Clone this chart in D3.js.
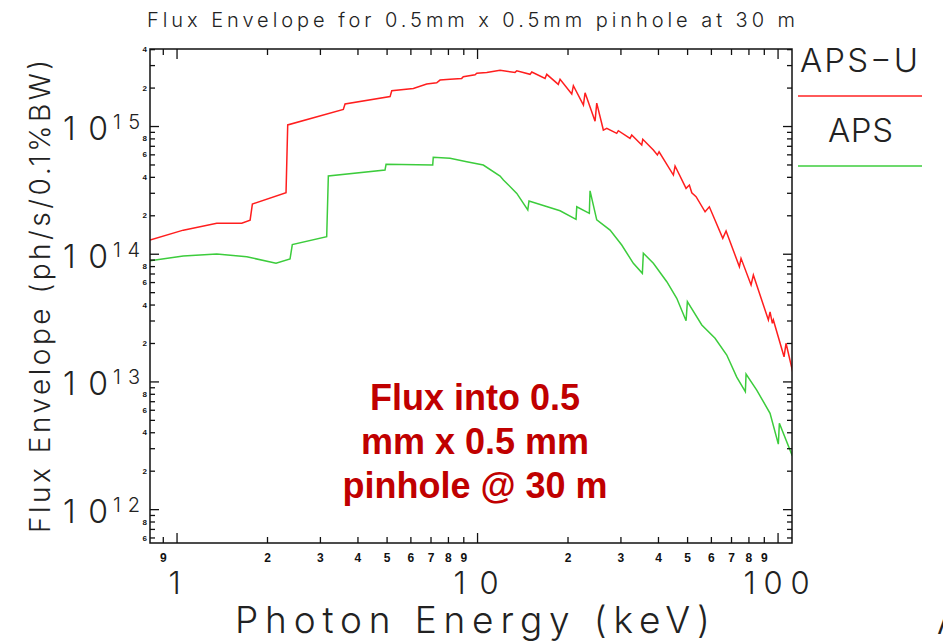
<!DOCTYPE html>
<html>
<head>
<meta charset="utf-8">
<style>
  body { margin: 0; background: white; }
  svg { display: block; }
  .thin { font-family: Inter, "DejaVu Sans", sans-serif; font-weight: 300; fill: #222; }
  .minor text { font-family: "Liberation Sans", Arial, sans-serif; font-weight: bold; fill: #111; }
  .note { font-family: "Liberation Sans", Arial, sans-serif; font-weight: bold; fill: #c00000; font-size: 36px; }
</style>
<script src="https://cdn.jsdelivr.net/npm/d3@7"></script>
</head>
<body>
<svg id="chart"></svg>
<script>
// photon energy (keV) and flux (ph/s/0.1%BW)
let apsuEnergy = [0.816, 1.053, 1.361, 1.648, 1.757, 1.788, 2.314, 2.344, 3.589, 3.637, 5.135, 5.202, 6.138, 6.80, 7.34, 7.53, 8.13, 8.89, 9.00, 9.85, 9.98, 10.77, 11.93, 13.38, 13.56, 15.01, 15.21, 16.84, 17.06, 18.64, 18.89, 20.66, 20.92, 22.59, 22.88, 24.70, 25.02, 26.32, 27.02, 29.16, 29.52, 32.29, 32.71, 35.32, 35.60, 38.61, 39.81, 40.34, 45.01, 45.60, 49.61, 50.88, 51.83, 53.56, 57.39, 59.29, 65.72, 67.40, 74.64, 75.60, 81.63, 83.08, 93.20, 94.41, 96.09, 96.83, 105.1, 106.7, 112.3]
let apsuFlux = [1.28e14, 1.53e14, 1.73e14, 1.73e14, 1.83e14, 2.45e14, 3.00e14, 1.02e15, 1.35e15, 1.49e15, 1.70e15, 1.89e15, 1.97e15, 2.13e15, 2.18e15, 2.29e15, 2.32e15, 2.36e15, 2.43e15, 2.52e15, 2.59e15, 2.63e15, 2.73e15, 2.63e15, 2.71e15, 2.54e15, 2.65e15, 2.36e15, 2.54e15, 2.12e15, 2.32e15, 1.78e15, 2.07e15, 1.46e15, 1.82e15, 1.09e15, 1.51e15, 9.30e14, 9.59e14, 8.77e14, 9.19e14, 8.01e14, 8.50e14, 7.10e14, 7.87e14, 6.49e14, 5.93e14, 6.29e14, 4.13e14, 4.86e14, 3.25e14, 3.45e14, 3.00e14, 2.80e14, 2.13e14, 2.33e14, 1.32e14, 1.51e14, 7.91e13, 9.20e13, 5.69e13, 6.81e13, 3.03e13, 3.51e13, 2.85e13, 3.03e13, 1.56e13, 1.99e13, 1.19e13]

let apsEnergy = [0.816, 1.053, 1.361, 1.713, 2.143, 2.386, 2.428, 3.16, 3.20, 4.94, 4.98, 7.12, 7.15, 8.13, 9.24, 10.49, 11.93, 12.24, 13.56, 14.75, 14.89, 18.89, 21.35, 21.47, 23.64, 23.77, 25.02, 27.71, 30.30, 33.12, 35.49, 35.76, 38.61, 42.8, 46.19, 49.61, 50.11, 55.96, 61.94, 67.76, 73.14, 78.13, 78.56, 85.25, 94.41, 100.6, 101.4, 112.0]
let apsFlux = [8.81e13, 9.59e13, 9.95e13, 9.47e13, 8.41e13, 9.09e13, 1.18e14, 1.36e14, 4.06e14, 4.52e14, 5.01e14, 4.95e14, 5.69e14, 5.59e14, 5.25e14, 4.95e14, 4.06e14, 3.78e14, 2.97e14, 2.20e14, 2.59e14, 2.17e14, 1.86e14, 2.33e14, 2.07e14, 3.11e14, 1.84e14, 1.53e14, 1.17e14, 8.41e13, 7.02e13, 1.01e14, 8.41e13, 6.04e13, 4.48e13, 2.99e13, 4.21e13, 2.77e13, 2.18e13, 1.61e13, 1.08e13, 8.31e12, 1.14e13, 8.56e12, 5.63e12, 3.23e12, 4.70e12, 2.61e12]

let seriesNames = ["APS\u2212U", "APS"]
let seriesColors = ["#ff1e1e", "#3ccc3c"]

let xMajor = [1, 10, 100]
let xMajorLabels = ["1", "10", "100"]
let xMinor = [0.9, 2, 3, 4, 5, 6, 7, 8, 9, 20, 30, 40, 50, 60, 70, 80, 90]
let yMajor = [1e12, 1e13, 1e14, 1e15]
let yExponents = ["12", "13", "14", "15"]
let yMinor = [6e11, 7e11, 8e11, 9e11,
  2e12, 3e12, 4e12, 5e12, 6e12, 7e12, 8e12, 9e12,
  2e13, 3e13, 4e13, 5e13, 6e13, 7e13, 8e13, 9e13,
  2e14, 3e14, 4e14, 5e14, 6e14, 7e14, 8e14, 9e14,
  2e15, 3e15, 4e15]

let titleText = "Flux Envelope for 0.5mm x 0.5mm pinhole at 30 m"
let xTitle = "Photon Energy (keV)"
let yTitle = "Flux Envelope (ph/s/0.1%BW)"
let noteLines = ["Flux into 0.5", "mm x 0.5 mm", "pinhole @ 30 m"]

let width = 943
let height = 644
let pLeft = 150, pRight = 792, pTop = 49, pBottom = 543

let svg = d3.select("#chart").attr("width", width).attr("height", height)

let x = d3.scaleLog().domain([0.816, 111.7]).range([pLeft, pRight])
let y = d3.scaleLog().domain([5.43e11, 4.01e15]).range([pBottom, pTop])

function mant(d) {
  return Math.round(d / Math.pow(10, Math.floor(Math.log10(d) + 1e-9)))
}

// title
svg.append("text").attr("class", "thin")
  .attr("x", 147).attr("y", 27)
  .attr("font-size", 20)
  .attr("textLength", 648).attr("lengthAdjust", "spacing")
  .text(titleText)

// curves
svg.append("clipPath").attr("id", "plotClip")
  .append("rect").attr("x", pLeft).attr("y", pTop)
  .attr("width", pRight - pLeft).attr("height", pBottom - pTop)

let line = d3.line().x(d => x(d[0])).y(d => y(d[1]))
let apsu = apsuEnergy.map((e, i) => [e, apsuFlux[i]])
let aps = apsEnergy.map((e, i) => [e, apsFlux[i]])

let plot = svg.append("g").attr("clip-path", "url(#plotClip)")
plot.append("path").datum(aps)
  .attr("d", line).attr("fill", "none")
  .attr("stroke", seriesColors[1]).attr("stroke-width", 1.5)
plot.append("path").datum(apsu)
  .attr("d", line).attr("fill", "none")
  .attr("stroke", seriesColors[0]).attr("stroke-width", 1.5)

// axes: ticks on all four sides, pointing inward
function styleAxis(g) {
  g.select(".domain").remove()
  g.selectAll(".tick line").attr("stroke", "#111").attr("stroke-width", 1.3)
}

let minorBottom = svg.append("g").attr("class", "minor")
  .attr("transform", `translate(0,${pBottom})`)
  .call(d3.axisBottom(x).tickValues(xMinor).tickSizeInner(-6).tickSizeOuter(0)
    .tickPadding(10).tickFormat(d => mant(d)))
minorBottom.call(styleAxis)
minorBottom.selectAll("text").attr("font-size", 12).attr("fill", "#111")

svg.append("g").attr("transform", `translate(0,${pBottom})`)
  .call(d3.axisBottom(x).tickValues(xMajor).tickSizeInner(-10).tickSizeOuter(0).tickFormat(""))
  .call(styleAxis)

svg.append("g").attr("transform", `translate(0,${pTop})`)
  .call(d3.axisTop(x).tickValues(xMinor).tickSizeInner(-6).tickSizeOuter(0).tickFormat(""))
  .call(styleAxis)
svg.append("g").attr("transform", `translate(0,${pTop})`)
  .call(d3.axisTop(x).tickValues(xMajor).tickSizeInner(-10).tickSizeOuter(0).tickFormat(""))
  .call(styleAxis)

let minorLeft = svg.append("g").attr("class", "minor")
  .attr("transform", `translate(${pLeft},0)`)
  .call(d3.axisLeft(y).tickValues(yMinor).tickSizeInner(-5).tickSizeOuter(0)
    .tickPadding(3).tickFormat(d => mant(d) % 2 === 0 ? mant(d) : ""))
minorLeft.call(styleAxis)
minorLeft.selectAll("text").attr("font-size", 8).attr("fill", "#111")

svg.append("g").attr("transform", `translate(${pLeft},0)`)
  .call(d3.axisLeft(y).tickValues(yMajor).tickSizeInner(-9).tickSizeOuter(0).tickFormat(""))
  .call(styleAxis)

svg.append("g").attr("transform", `translate(${pRight},0)`)
  .call(d3.axisRight(y).tickValues(yMinor).tickSizeInner(-5).tickSizeOuter(0).tickFormat(""))
  .call(styleAxis)
svg.append("g").attr("transform", `translate(${pRight},0)`)
  .call(d3.axisRight(y).tickValues(yMajor).tickSizeInner(-9).tickSizeOuter(0).tickFormat(""))
  .call(styleAxis)

// frame
svg.append("rect")
  .attr("x", pLeft).attr("y", pTop)
  .attr("width", pRight - pLeft).attr("height", pBottom - pTop)
  .attr("fill", "none").attr("stroke", "#111").attr("stroke-width", 1.5)

// big decade labels
let xLabLen = [14, 45, 66]
svg.selectAll(".xmaj").data(xMajor).enter().append("text")
  .attr("class", "thin xmaj")
  .attr("x", (d, i) => x(d) - xLabLen[i] / 2 - 1).attr("y", 594)
  .attr("font-size", 31)
  .attr("textLength", (d, i) => xLabLen[i]).attr("lengthAdjust", "spacing")
  .text((d, i) => xMajorLabels[i])

let yLab = svg.selectAll(".ymaj").data(yMajor).enter().append("g").attr("class", "ymaj")
yLab.append("text").attr("class", "thin")
  .attr("x", 63).attr("y", d => y(d) + 14)
  .attr("font-size", 32)
  .attr("textLength", 45).attr("lengthAdjust", "spacing")
  .text("10")
yLab.append("text").attr("class", "thin")
  .attr("x", 113).attr("y", d => y(d) + 3)
  .attr("font-size", 20)
  .attr("textLength", 27).attr("lengthAdjust", "spacing")
  .text((d, i) => yExponents[i])

// axis titles
svg.append("text").attr("class", "thin")
  .attr("transform", "translate(50,533) rotate(-90)")
  .attr("font-size", 28)
  .attr("textLength", 473).attr("lengthAdjust", "spacing")
  .text(yTitle)

svg.append("text").attr("class", "thin")
  .attr("x", 235).attr("y", 633)
  .attr("font-size", 37)
  .attr("textLength", 475).attr("lengthAdjust", "spacing")
  .text(xTitle)

// stray letter cut by the slide edge
svg.append("text").attr("class", "thin")
  .attr("x", 937).attr("y", 634).attr("font-size", 35).text("A")

// legend
let legendY = [72, 142]
let legendLineY = [96, 166]
let legendX = [800, 828]
let legendLen = [118, 65]
seriesNames.forEach((name, i) => {
  svg.append("text").attr("class", "thin")
    .attr("x", legendX[i]).attr("y", legendY[i])
    .attr("font-size", 33)
    .attr("textLength", legendLen[i]).attr("lengthAdjust", "spacing")
    .text(name)
  svg.append("line")
    .attr("x1", 798).attr("x2", 922)
    .attr("y1", legendLineY[i]).attr("y2", legendLineY[i])
    .attr("stroke", i === 0 ? "#ff5a5a" : seriesColors[1])
    .attr("stroke-width", i === 0 ? 2 : 1.5)
})

// annotation
svg.selectAll(".note").data(noteLines).enter().append("text")
  .attr("class", "note")
  .attr("x", 475).attr("y", (d, i) => 410 + i * 44)
  .attr("text-anchor", "middle")
  .text(d => d)
</script>
</body>
</html>
